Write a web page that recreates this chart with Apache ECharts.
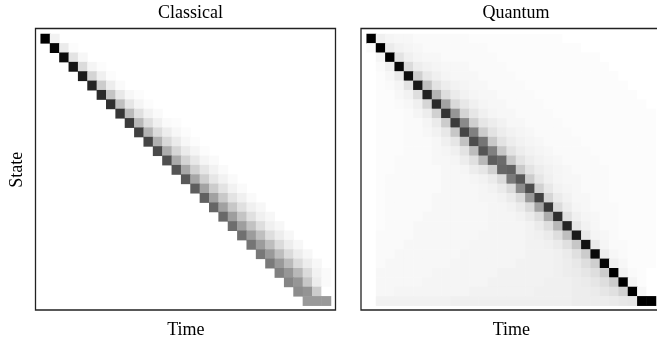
<!DOCTYPE html>
<html>
<head>
<meta charset="utf-8">
<script src="https://cdn.jsdelivr.net/npm/echarts@6/dist/echarts.min.js"></script>
<style>
  html, body { margin: 0; padding: 0; background: #fff; }
  #chart { width: 657px; height: 347px; }
</style>
</head>
<body>
<div id="chart"></div>
<script>
// darkness of each cell, 0 = white, 100 = black
const timeSteps = Array.from({ length: 31 }, (_, i) => i);
const states = Array.from({ length: 29 }, (_, i) => i);

// classical: each row starts at its diagonal cell and trails off to the right
const classicalBand = [
  [100, 5],
  [98, 8, 1],
  [95, 11, 3],
  [92, 14, 4, 1],
  [89, 17, 6, 1],
  [86, 20, 7, 2],
  [83, 23, 9, 3, 1],
  [81, 25, 10, 4, 1],
  [79, 27, 12, 5, 2],
  [77, 28, 13, 6, 2, 1],
  [75, 30, 14, 7, 3, 1],
  [73, 31, 15, 8, 3, 1],
  [71, 32, 16, 8, 4, 1],
  [69, 33, 17, 9, 4, 2],
  [67, 34, 18, 10, 5, 2],
  [65, 35, 19, 10, 5, 2],
  [63, 36, 20, 11, 5, 2],
  [62, 37, 21, 11, 6, 2],
  [60, 37, 22, 12, 6, 3],
  [59, 38, 23, 12, 6, 3],
  [57, 38, 24, 13, 6, 3],
  [56, 39, 25, 13, 7, 3],
  [54, 39, 26, 14, 7, 3],
  [53, 40, 26, 14, 7, 3],
  [52, 40, 27, 14, 7, 3],
  [50, 41, 28, 14, 5, 2],
  [48, 41, 22, 7, 2],
  [45, 42, 20, 0],
  [40, 40, 40]
];

const quantumRows = [
  [100,6,4,3,3,2,2,2,2,2,2,1,1,1,1,1,1,1,1,1,1,0,0,0,0,0,0,0,0,0,0],
  [2,100,8,5,4,3,2,2,2,2,2,2,2,1,1,1,1,1,1,1,1,1,1,0,0,0,0,0,0,0,0],
  [0,4,100,11,6,4,3,3,2,2,2,2,2,2,1,1,1,1,1,1,1,1,1,1,1,0,0,0,0,0,0],
  [0,2,6,97,14,7,5,4,3,3,3,2,2,2,2,1,1,1,1,1,1,1,1,1,1,1,0,0,0,0,0],
  [0,1,3,8,94,19,9,6,4,3,3,3,2,2,2,2,1,1,1,1,1,1,1,1,1,1,1,0,0,0,0],
  [0,1,2,4,11,90,24,11,7,5,4,3,3,2,2,2,2,1,1,1,1,1,1,1,1,1,1,1,0,0,0],
  [0,1,1,3,5,13,87,30,13,8,5,4,3,3,2,2,2,2,1,1,1,1,1,1,1,1,1,1,1,0,0],
  [0,1,1,2,3,6,16,83,36,15,9,6,4,3,3,2,2,2,2,1,1,1,1,1,1,1,1,1,1,1,0],
  [0,1,1,1,2,4,7,18,80,41,17,10,6,4,3,3,2,2,2,2,1,1,1,1,1,1,1,1,1,1,1],
  [0,1,1,1,2,2,4,8,20,77,46,19,10,7,5,3,3,2,2,2,2,1,1,1,1,1,1,1,1,1,1],
  [0,1,1,1,2,2,3,5,9,22,73,50,20,11,7,5,4,3,2,2,2,2,1,1,1,1,1,1,1,1,1],
  [0,1,1,1,2,2,2,3,6,10,24,70,54,21,11,7,5,4,3,2,2,2,2,1,1,1,1,1,1,1,1],
  [0,1,1,1,2,2,2,3,4,6,11,26,67,50,22,11,7,5,4,3,2,2,2,2,1,1,1,1,1,1,1],
  [0,1,1,2,2,2,2,3,3,4,7,12,28,63,58,22,11,7,5,4,3,2,2,2,2,1,1,1,1,1,1],
  [0,1,1,2,2,2,2,2,3,3,4,7,10,18,60,62,21,11,7,5,4,3,2,2,2,2,1,1,1,1,1],
  [0,1,2,2,2,2,2,2,3,3,3,4,5,8,14,52,66,20,10,6,4,3,3,2,2,2,1,1,1,1,1],
  [0,1,2,2,2,2,2,2,3,3,3,3,4,5,8,14,45,70,18,9,5,4,3,2,2,2,1,1,1,1,1],
  [0,1,2,2,2,2,2,3,3,3,3,3,4,4,5,8,14,40,74,16,8,5,3,3,2,2,1,1,1,1,1],
  [0,1,2,2,2,2,2,3,3,3,3,3,3,4,4,5,8,14,36,78,14,7,4,3,2,2,2,1,1,1,1],
  [0,1,2,2,2,2,3,3,3,3,3,3,3,4,4,4,5,8,13,32,82,12,6,4,3,2,2,1,1,1,1],
  [0,1,2,2,2,3,3,3,3,3,3,3,3,4,4,4,4,5,8,13,28,86,10,5,3,2,2,1,1,1,1],
  [0,2,2,2,2,3,3,3,3,3,3,3,4,4,4,4,4,5,6,8,13,25,90,9,4,3,2,1,1,1,1],
  [0,2,2,2,3,3,3,3,3,3,3,4,4,4,4,4,4,5,5,6,8,12,22,93,8,4,2,2,1,1,1],
  [0,2,2,3,3,3,3,3,3,3,4,4,4,4,4,4,4,5,5,5,6,8,12,20,96,7,3,2,1,1,1],
  [0,2,3,3,3,3,3,3,3,4,4,4,4,4,4,4,5,5,5,5,6,7,9,13,19,98,6,3,1,1,1],
  [0,3,3,3,3,3,3,4,4,4,4,4,4,4,5,5,5,5,5,5,6,7,8,10,13,20,100,5,2,1,0],
  [0,3,3,3,3,3,4,4,4,4,4,4,4,5,5,5,5,5,5,6,6,6,7,8,10,13,20,100,4,1,0],
  [0,3,3,4,4,4,4,4,4,4,4,5,5,5,5,5,5,5,6,6,6,6,7,7,8,10,12,18,100,3,0],
  [0,5,5,5,5,5,5,5,5,6,6,6,6,6,6,6,6,6,6,6,6,6,7,7,7,7,8,9,10,100,100]
];

const titles = ['Classical', 'Quantum'];

const classicalData = [];
classicalBand.forEach((band, row) => {
  band.forEach((v, k) => classicalData.push([row + k, row, v]));
});
const quantumData = [];
quantumRows.forEach((cells, row) => {
  cells.forEach((v, col) => quantumData.push([col, row, v]));
});

const font = 'Liberation Serif';
const grids = [
  { left: 40.7, top: 34, width: 290.3, height: 271.7 },
  { left: 366.7, top: 34, width: 289.3, height: 271.7 }
];

const chart = echarts.init(document.getElementById('chart'));
chart.setOption({
  animation: false,
  backgroundColor: '#fff',
  title: [
    { text: titles[0], left: 185.5, top: -1, textAlign: 'center',
      textStyle: { fontFamily: font, fontSize: 18, fontWeight: 'normal', color: '#000' } },
    { text: titles[1], left: 511, top: -1, textAlign: 'center',
      textStyle: { fontFamily: font, fontSize: 18, fontWeight: 'normal', color: '#000' } }
  ],
  grid: grids,
  xAxis: grids.map((g, i) => ({
    type: 'category',
    gridIndex: i,
    data: timeSteps,
    name: 'Time',
    nameLocation: 'middle',
    nameGap: 16,
    nameTextStyle: { fontFamily: font, fontSize: 18, color: '#000' },
    axisLine: { show: false },
    axisTick: { show: false },
    axisLabel: { show: false },
    splitLine: { show: false }
  })),
  yAxis: grids.map((g, i) => ({
    type: 'category',
    gridIndex: i,
    data: states,
    inverse: true,
    name: i === 0 ? 'State' : '',
    nameLocation: 'middle',
    nameGap: 14,
    nameTextStyle: { fontFamily: font, fontSize: 18, color: '#000' },
    axisLine: { show: false },
    axisTick: { show: false },
    axisLabel: { show: false },
    splitLine: { show: false }
  })),
  visualMap: {
    type: 'continuous',
    show: false,
    min: 0,
    max: 100,
    seriesIndex: [0, 1],
    inRange: { color: ['#ffffff', '#000000'] }
  },
  series: [
    { type: 'heatmap', xAxisIndex: 0, yAxisIndex: 0, data: classicalData, progressive: 0 },
    { type: 'heatmap', xAxisIndex: 1, yAxisIndex: 1, data: quantumData, progressive: 0 }
  ],
  graphic: [
    { type: 'rect', shape: { x: 35.5, y: 28.5, width: 300, height: 281.5 },
      style: { fill: 'none', stroke: '#222', lineWidth: 1.3 }, z: 10 },
    { type: 'rect', shape: { x: 361, y: 28.5, width: 300, height: 281.5 },
      style: { fill: 'none', stroke: '#222', lineWidth: 1.3 }, z: 10 }
  ]
});
</script>
</body>
</html>
